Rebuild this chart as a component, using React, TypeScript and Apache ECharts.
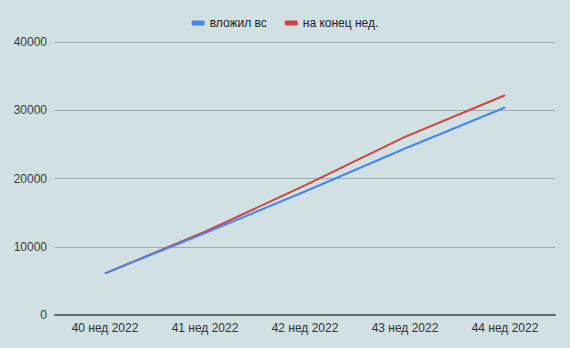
import React, { useEffect, useRef } from "react";
import * as echarts from "echarts";

const categories = ["40 нед 2022", "41 нед 2022", "42 нед 2022", "43 нед 2022", "44 нед 2022"];
const invested = [6100, 12000, 18100, 24400, 30400];
const endOfWeek = [6100, 12200, 19000, 26100, 32200];
const seriesNames = ["вложил вс", "на конец нед."];

export default function App() {
  const ref = useRef<HTMLDivElement>(null);
  useEffect(() => {
    document.body.style.margin = "0";
    const chart = echarts.init(ref.current!, null, { renderer: "svg" });
    const font = "Arial, 'Liberation Sans', sans-serif";
    chart.setOption({
      animation: false,
      backgroundColor: "#d1e0e3",
      textStyle: { fontFamily: font },
      legend: {
        top: 12,
        left: "center",
        itemWidth: 13,
        itemHeight: 5,
        itemGap: 18,
        icon: "roundRect",
        textStyle: { color: "#222", fontSize: 12, fontFamily: font },
        data: seriesNames,
      },
      grid: { left: 55, right: 15, top: 42, bottom: 33 },
      xAxis: {
        type: "category",
        data: categories,
        boundaryGap: true,
        axisLine: { lineStyle: { color: "#5f6a6c", width: 2 } },
        axisTick: { show: false },
        axisLabel: { color: "#333", fontSize: 12, margin: 7, fontFamily: font },
      },
      yAxis: {
        type: "value",
        min: 0,
        max: 40000,
        interval: 10000,
        axisLine: { show: false },
        axisTick: { show: false },
        axisLabel: {
          color: "#3a3a3a",
          fontSize: 12,
          margin: 8,
          fontFamily: font,
          formatter: (v: number) => String(v),
        },
        splitLine: { lineStyle: { color: "#9eabad", width: 1 } },
      },
      series: [
        {
          name: seriesNames[0],
          type: "line",
          data: invested,
          showSymbol: false,
          symbol: "none",
          lineStyle: { color: "#4a86e8", width: 2 },
          itemStyle: { color: "#4a86e8" },
          z: 3,
        },
        {
          name: seriesNames[1],
          type: "line",
          data: endOfWeek,
          showSymbol: false,
          symbol: "none",
          lineStyle: { color: "#cc4541", width: 2 },
          itemStyle: { color: "#cc4541" },
          z: 2,
        },
      ],
    });
    return () => chart.dispose();
  }, []);
  return <div ref={ref} style={{ width: 570, height: 348 }} />;
}
